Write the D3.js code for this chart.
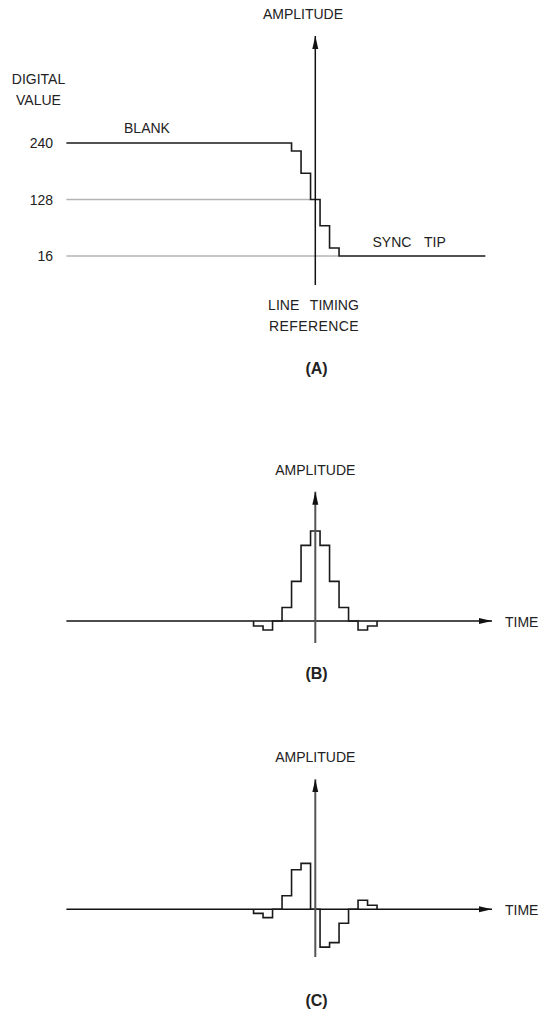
<!DOCTYPE html>
<html>
<head>
<meta charset="utf-8">
<script src="https://cdn.jsdelivr.net/npm/d3@7"></script>
<style>
    body { margin: 0; background: #fff; }
    text { font-family: "Liberation Sans", Arial, sans-serif; font-size: 14px; fill: #222; }
</style>
</head>
<body>
<div class="chart"></div>
<script>
// panel A: sync edge, digital values per sample (-3 .. 3)
var levelTicks = [240, 128, 16];
var edgeValues = [240, 224, 180, 128, 76, 32, 16];
// panel B: filtered pulse, samples -6 .. 6
var pulseValues = [-0.055, -0.1, 0, 0.15, 0.44, 0.84, 1, 0.84, 0.44, 0.15, 0, -0.1, -0.055];
// panel C: difference signal, samples -6 .. 6
var diffValues = [-0.045, -0.093, 0, 0.15, 0.44, 0.51, 0, -0.42, -0.37, -0.155, 0, 0.1, 0.045];
var panelNames = ['(A)', '(B)', '(C)'];

var width = 540, height = 1024;

var svg = d3.select('.chart').append('svg')
    .attr('width', width)
    .attr('height', height);

svg.append('defs').append('marker')
    .attr('id', 'arrow')
    .attr('markerUnits', 'userSpaceOnUse')
    .attr('markerWidth', 14).attr('markerHeight', 8)
    .attr('refX', 13).attr('refY', 4)
    .attr('orient', 'auto')
    .append('path')
    .attr('d', 'M0,1 L13,4 L0,7 Z')
    .style('fill', '#111');

// time in sample periods, 0 = line timing reference
var x = d3.scaleLinear().domain([0, 1]).range([315.3, 324.8]);

var stepLine = function (y) {
    return d3.line()
        .x(function (d) { return x(d[0]); })
        .y(function (d) { return y(d[1]); })
        .curve(d3.curveStepAfter);
};

function samplePoints(vals) {
    var n = (vals.length - 1) / 2, pts = [[-n - 0.5, 0]];
    vals.forEach(function (v, i) { pts.push([i - n - 0.5, v]); });
    pts.push([n + 0.5, 0]);
    return pts;
}

//=========== A
var yA = d3.scaleLinear().domain([16, 240]).range([256, 143]);
var gA = svg.append('g');

gA.selectAll('.grid')
    .data(levelTicks.slice(1))
    .enter().append('line')
    .attr('x1', x(-26.2))
    .attr('x2', function (d) { return x(edgeValues.indexOf(d) - 3 - 0.5); })
    .attr('y1', function (d) { return yA(d); })
    .attr('y2', function (d) { return yA(d); })
    .style('stroke', '#b4b4b4').style('stroke-width', 1.5);

gA.selectAll('.tick')
    .data(levelTicks)
    .enter().append('text')
    .attr('x', 53).attr('y', function (d) { return yA(d) + 5; })
    .attr('text-anchor', 'end')
    .text(function (d) { return d; });

var edgePts = [[-26.2, edgeValues[0]]];
edgeValues.slice(1).forEach(function (v, i) { edgePts.push([i - 2.5, v]); });
edgePts.push([17.9, edgeValues[6]]);

gA.append('path')
    .attr('d', stepLine(yA)(edgePts))
    .style('fill', 'none').style('stroke', '#1a1a1a').style('stroke-width', 1.6);

gA.append('line')
    .attr('x1', x(0)).attr('x2', x(0)).attr('y1', 285).attr('y2', 36)
    .attr('marker-end', 'url(#arrow)')
    .style('stroke', '#111').style('stroke-width', 1.5);

gA.append('text').attr('x', 303).attr('y', 19).attr('text-anchor', 'middle').text('AMPLITUDE');
gA.append('text').attr('x', 38.5).attr('y', 84).attr('text-anchor', 'middle').text('DIGITAL');
gA.append('text').attr('x', 38.5).attr('y', 105).attr('text-anchor', 'middle').text('VALUE');
gA.append('text').attr('x', 147).attr('y', 132.5).attr('text-anchor', 'middle').text('BLANK');
gA.append('text').attr('x', 372.5).attr('y', 246.5).style('word-spacing', '9px').text('SYNC TIP');
gA.append('text').attr('x', 313.5).attr('y', 310).attr('text-anchor', 'middle').style('word-spacing', '7px').text('LINE TIMING');
gA.append('text').attr('x', 314).attr('y', 331).attr('text-anchor', 'middle').style('letter-spacing', '0.4px').text('REFERENCE');

//=========== B and C
var panels = [
    {vals: pulseValues, base: 621, top: 491.7, bottom: 643, label: 470},
    {vals: diffValues, base: 909.3, top: 779.3, bottom: 957, label: 757.3}
];

panels.forEach(function (p) {
    var y = d3.scaleLinear().domain([0, 1]).range([p.base, p.base - 90]);
    var g = svg.append('g');

    g.append('line')
        .attr('x1', x(-26.2)).attr('x2', x(18.6)).attr('y1', y(0)).attr('y2', y(0))
        .attr('marker-end', 'url(#arrow)')
        .style('stroke', '#111').style('stroke-width', 1.5);

    g.append('path')
        .attr('d', stepLine(y)(samplePoints(p.vals)))
        .style('fill', 'none').style('stroke', '#1a1a1a').style('stroke-width', 1.6);

    g.append('line')
        .attr('x1', x(0)).attr('x2', x(0)).attr('y1', p.bottom).attr('y2', p.top)
        .attr('marker-end', 'url(#arrow)')
        .style('stroke', '#555').style('stroke-width', 2);

    g.append('text').attr('x', x(0)).attr('y', p.label + 5).attr('text-anchor', 'middle').text('AMPLITUDE');
    g.append('text').attr('x', 505).attr('y', y(0) + 5.5).text('TIME');
});

svg.selectAll('.panelName')
    .data(panelNames)
    .enter().append('text')
    .attr('x', 316.5)
    .attr('y', function (d, i) { return [374, 679, 1006][i]; })
    .attr('text-anchor', 'middle')
    .style('font-weight', 'bold')
    .style('font-size', '16px')
    .text(function (d) { return d; });
</script>
</body>
</html>
